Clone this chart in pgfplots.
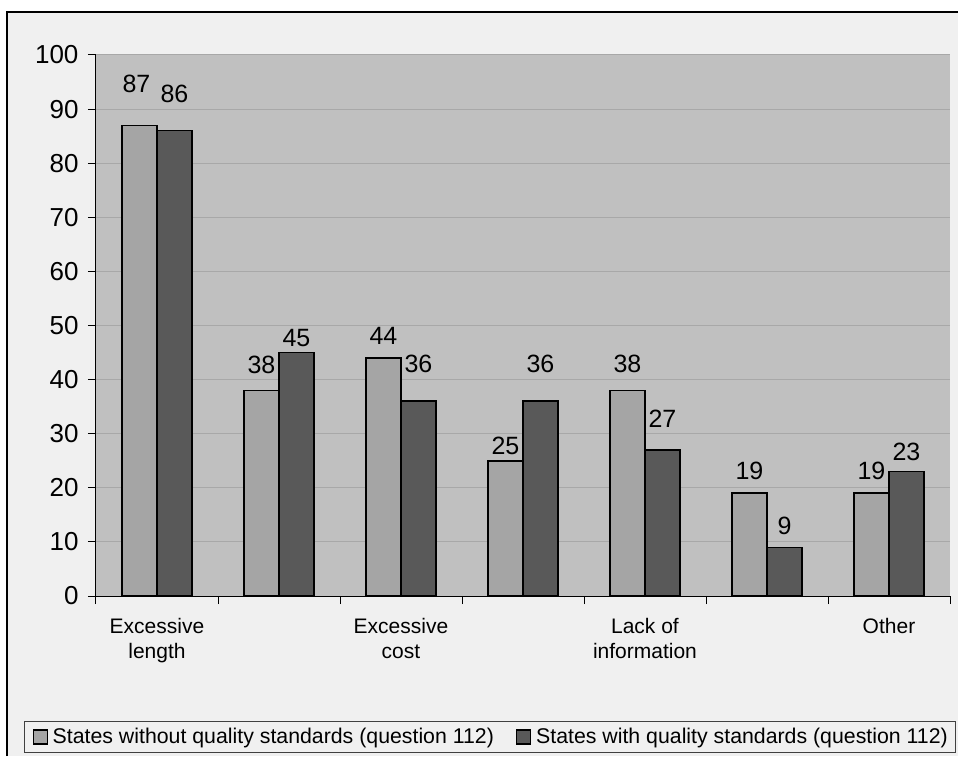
\documentclass[border=0pt]{standalone}
\usepackage{fontspec}
\setmainfont{Liberation Sans}
\usepackage{pgfplots}
\usepackage{pgfplotstable}
\pgfplotsset{compat=1.18}

\definecolor{chartbg}{HTML}{F0F0F0}
\definecolor{plotbg}{HTML}{C0C0C0}
\definecolor{gridgray}{HTML}{A8A8A8}
\definecolor{barlight}{HTML}{A5A5A5}
\definecolor{bardark}{HTML}{595959}
\definecolor{legendframe}{HTML}{404040}

% x = category index, y = percentage, dx/dy = label offsets (pt)
\pgfplotstableread{
x y dx dy
0 87 -3 41
1 38 0 26
2 44 0 22
3 25 0 15
4 38 0 27
5 19 0 22.5
6 19 0 22.5
}\withoutstd
\pgfplotstableread{
x y dx dy
0 86 0 37
1 45 0 15
2 36 0 37
3 36 0 37
4 27 0 31
5 9 0 21
6 23 0 19.5
}\withstd

\begin{document}
\begin{tikzpicture}
\useasboundingbox (0,0) rectangle (958pt,756pt);
\fill[white] (0,0) rectangle (958pt,756pt);
\fill[chartbg] (7pt,0) rectangle (958pt,744pt);
\draw[line width=1.5pt] (7pt,0) -- (7pt,744pt) -- (958pt,744pt);
\begin{axis}[
  at={(96pt,160pt)}, anchor=south west,
  scale only axis, width=854pt, height=541pt,
  xmin=-0.5, xmax=6.5, ymin=0, ymax=100,
  ybar=0pt, bar width=35pt,
  axis background/.style={fill=plotbg},
  axis x line=bottom, axis y line=left,
  axis line style={-, black, line width=1pt},
  ytick={0,10,...,100},
  ymajorgrids, grid style={gridgray, line width=1pt},
  xtick={-0.5,0.5,1.5,2.5,3.5,4.5,5.5,6.5},
  xticklabels={},
  extra x ticks={0,1,2,3,4,5,6},
  extra x tick labels={{Excessive\\length},{},{Excessive\\cost},{},{Lack of\\information},{},{Other}},
  extra x tick style={major tick length=0pt, grid=none,
    xticklabel style={align=center, font=\fontsize{21}{25}\selectfont, yshift=-19pt}},
  tick align=outside, major tick length=8pt,
  tick style={black, line width=1pt},
  yticklabel style={font=\fontsize{26}{30}\selectfont, xshift=-6pt},
  /pgf/number format/assume math mode=true,
  nodes near coords,
  visualization depends on={\thisrow{dy} \as \labdy},
  visualization depends on={\thisrow{dx} \as \labdx},
  every node near coord/.append style={anchor=center, yshift=\labdy pt, xshift=\labdx pt,
    font=\fontsize{25}{30}\selectfont, black},
  legend columns=2,
  legend style={at={(-0.0843,-0.2311)}, anchor=north west,
    draw=legendframe, line width=1pt, fill=chartbg,
    font=\fontsize{21.3}{25}\selectfont,
    inner xsep=8pt, inner ysep=5pt,
    nodes={inner xsep=0pt, inner ysep=2pt},
    /tikz/every odd column/.append style={column sep=5pt},
    /tikz/every even column/.append style={column sep=22pt}},
  legend image code/.code={\draw[#1, line width=1.2pt] (0pt,-7pt) rectangle (14pt,7pt);},
]
\addplot[fill=barlight, draw=black, line width=1.5pt] table[x=x, y=y] {\withoutstd};
\addplot[fill=bardark, draw=black, line width=1.5pt] table[x=x, y=y] {\withstd};
\legend{States without quality standards (question 112), States with quality standards (question 112)}
\end{axis}
\end{tikzpicture}
\end{document}
